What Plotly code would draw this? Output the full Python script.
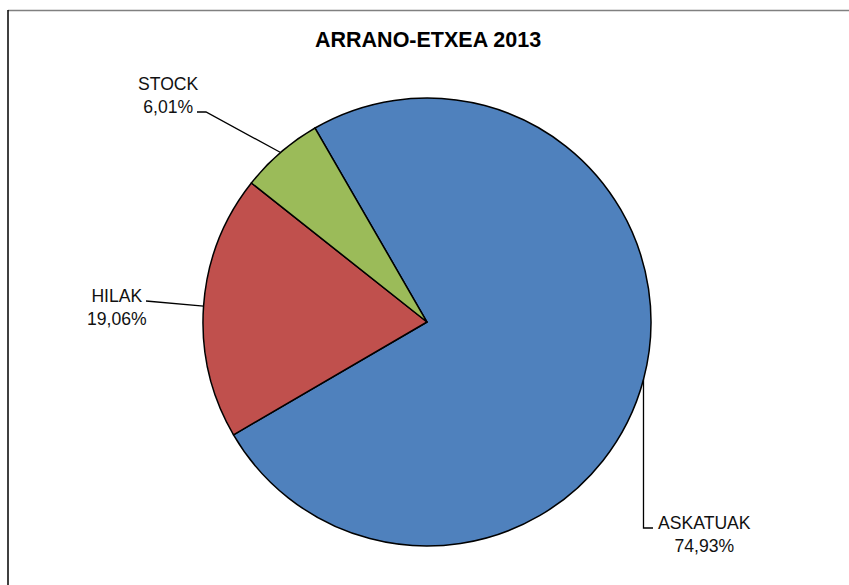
import math
import plotly.graph_objects as go

# ---- data ----
categories = ["ASKATUAK", "HILAK", "STOCK"]
values = [74.93, 19.06, 6.01]
value_labels = ["74,93%", "19,06%", "6,01%"]
colors = ["#4F81BD", "#C0504D", "#9BBB59"]
title_text = "ARRANO-ETXEA 2013"

# ---- layout constants (pixels) ----
W, H = 849, 585
CX, CY, R = 427, 322, 224
ROTATION = 330  # start of first slice, degrees clockwise from 12 o'clock

# label block centers and the elbow/end points of the leader lines (pixels)
label_pos = {
    "ASKATUAK": dict(tx=704, ty=534, path=lambda ex, ey: [(ex, ey), (ex, 528), (653, 528)]),
    "HILAK": dict(tx=117, ty=307, path=lambda ex, ey: [(ex, ey), (146, 301)]),
    "STOCK": dict(tx=168, ty=96, path=lambda ex, ey: [(ex, ey), (206, 112), (197, 112)]),
}


def px(x):
    return x / W


def py(y):
    return 1 - y / H


fig = go.Figure()
fig.add_trace(go.Pie(
    labels=categories,
    values=values,
    marker=dict(colors=colors, line=dict(color="black", width=1.5)),
    sort=False,
    direction="clockwise",
    rotation=ROTATION,
    textinfo="none",
    hoverinfo="label+percent",
    showlegend=False,
    domain=dict(x=[px(CX - R), px(CX + R)], y=[py(CY + R), py(CY - R)]),
))

shapes = []
annotations = []
total = sum(values)
cum = 0.0
for cat, v, lab in zip(categories, values, value_labels):
    mid = math.radians(ROTATION + (cum + v / 2) / total * 360)
    cum += v
    ex = CX + R * math.sin(mid)
    ey = CY - R * math.cos(mid)
    info = label_pos[cat]
    pts = info["path"](ex, ey)
    d = "M " + " L ".join(f"{px(x):.5f},{py(y):.5f}" for x, y in pts)
    shapes.append(dict(type="path", path=d, xref="paper", yref="paper",
                       line=dict(color="black", width=1.3)))
    annotations.append(dict(
        x=px(info["tx"]), y=py(info["ty"]), xref="paper", yref="paper",
        text=f"{cat}<br>{lab}", showarrow=False, align="center",
        xanchor="center", yanchor="middle",
        font=dict(family="Liberation Sans, Arial, sans-serif", size=17.6, color="#111111"),
    ))

# chart border (top and left visible)
shapes.append(dict(type="line", xref="paper", yref="paper",
                   x0=px(8), x1=1, y0=py(10.5), y1=py(10.5),
                   line=dict(color="#808080", width=1.5)))
shapes.append(dict(type="line", xref="paper", yref="paper",
                   x0=px(8), x1=px(8), y0=py(10), y1=0,
                   line=dict(color="black", width=1.5)))

annotations.append(dict(
    x=px(428), y=py(40), xref="paper", yref="paper",
    text=f"<b>{title_text}</b>", showarrow=False,
    xanchor="center", yanchor="middle",
    font=dict(family="Liberation Sans, Arial, sans-serif", size=21.5, color="black"),
))

fig.update_layout(
    width=W, height=H,
    margin=dict(l=0, r=0, t=0, b=0),
    paper_bgcolor="white", plot_bgcolor="white",
    shapes=shapes, annotations=annotations,
)

fig.write_html("out.html",
               config={"displayModeBar": False},
               post_script="document.body.style.margin='0';document.body.style.overflow='hidden';")
